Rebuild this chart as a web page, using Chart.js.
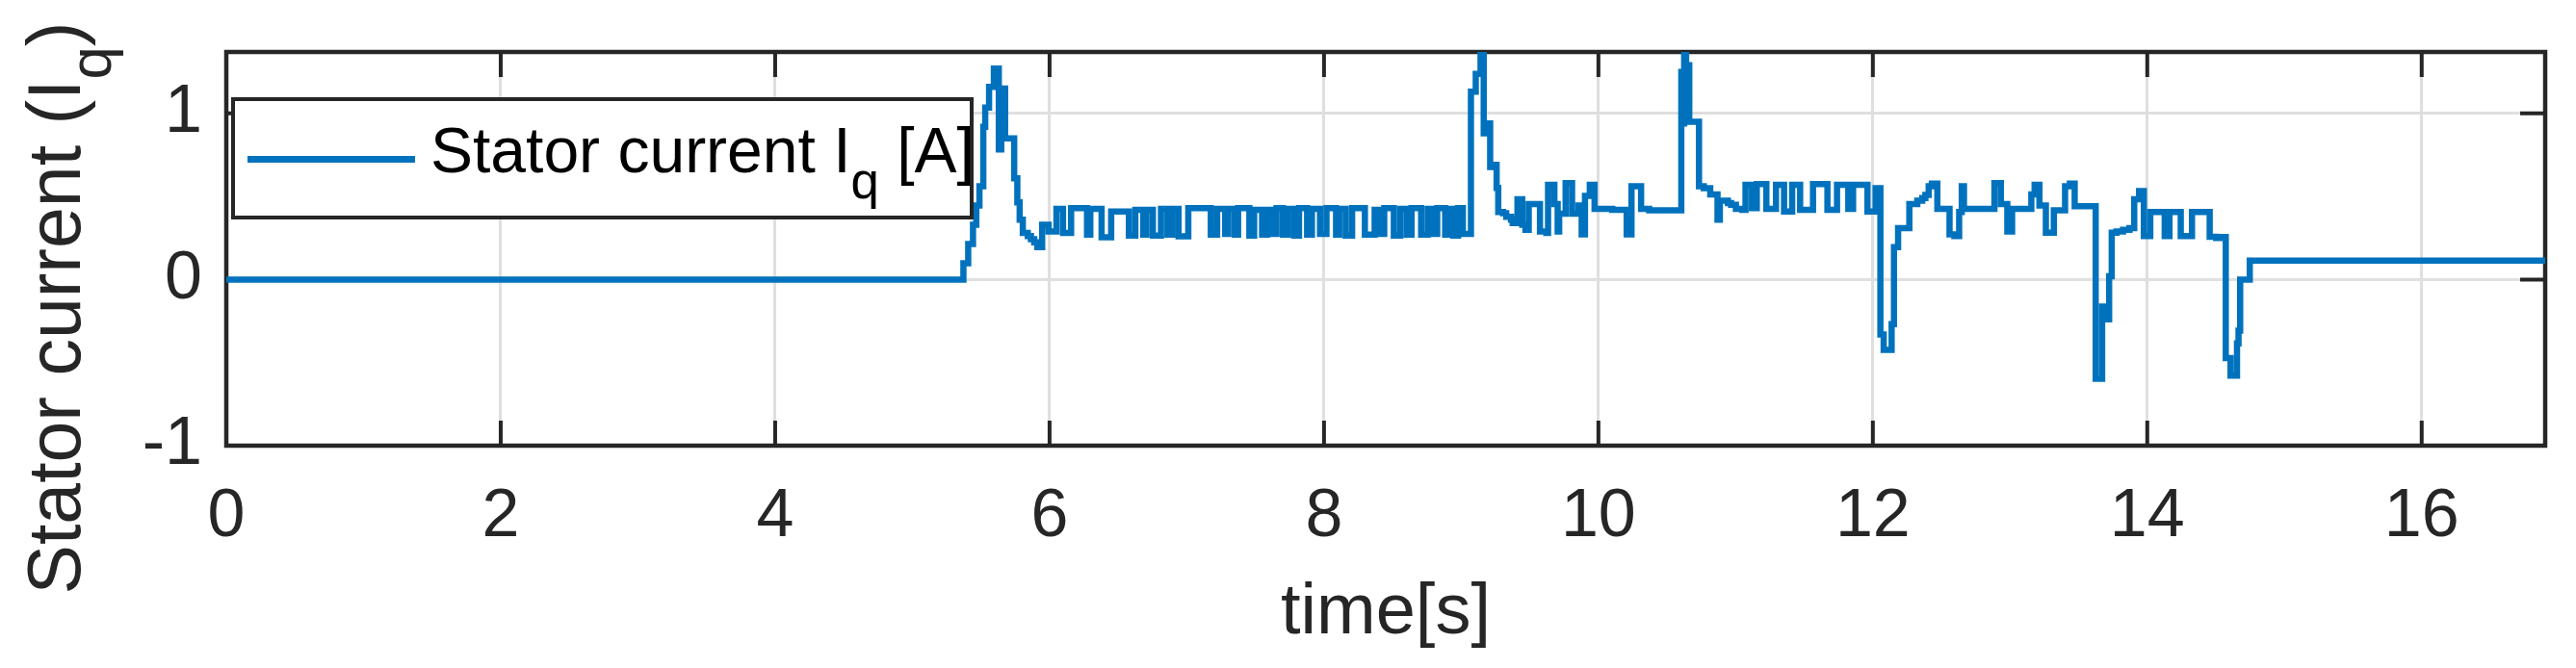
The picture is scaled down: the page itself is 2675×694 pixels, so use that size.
<!DOCTYPE html>
<html>
<head>
<meta charset="utf-8">
<title>Stator current Iq</title>
<script src="https://cdn.jsdelivr.net/npm/chart.js@4.4.1/dist/chart.umd.min.js"></script>
<style>
	body { margin: 0; background: #fff; }
	#wrap { position: relative; width: 2675px; height: 694px; overflow: hidden; }
	#ylabel {
		position: absolute; left: -344px; top: 270px; width: 800px; height: 100px;
		line-height: 100px; text-align: center; white-space: nowrap;
		font-family: 'Liberation Sans', Arial, sans-serif; font-size: 77px; color: #262626;
		transform: rotate(-90deg);
	}
	#legend {
		position: absolute; left: 240px; top: 101px; width: 771px; height: 127px;
		box-sizing: border-box; border: 4px solid #262626; background: #fff;
	}
	#legend .sample { position: absolute; left: 13px; top: 57px; width: 174px; height: 6.5px; background: #0072BD; }
	#legend .text {
		position: absolute; left: 203px; top: 18px; line-height: 66px; white-space: nowrap;
		font-family: 'Liberation Sans', Arial, sans-serif; font-size: 66px; color: #000;
	}
	sub { font-size: 0.8em; vertical-align: -0.52em; line-height: 0; }
</style>
</head>
<body>
<div id="wrap">
	<canvas id="iqChart" width="2675" height="694"></canvas>
	<div id="ylabel">Stator current (I<sub>q</sub>)</div>
	<div id="legend">
		<div class="sample"></div>
		<div class="text">Stator current I<sub>q</sub> [A]</div>
	</div>
</div>
<script>
// time [s] at which the current steps to a new value
var timeS = [
	0, 5.372, 5.407, 5.442, 5.466, 5.489, 5.517, 5.531, 5.559, 5.594,
	5.630, 5.648, 5.676, 5.742, 5.765, 5.782, 5.805, 5.841, 5.864, 5.888,
	5.911, 5.946, 5.993,
	6.050, 6.098, 6.157, 6.273, 6.297, 6.379, 6.449, 6.578, 6.625, 6.683,
	6.706, 6.753, 6.812, 6.859, 6.894, 6.940, 7.011, 7.175, 7.221, 7.280,
	7.303, 7.350, 7.374, 7.456, 7.491, 7.549, 7.584, 7.619, 7.654, 7.701,
	7.737, 7.783, 7.818, 7.877, 7.912, 7.971, 8.018, 8.088, 8.111, 8.158,
	8.205, 8.298, 8.369, 8.404, 8.439, 8.509, 8.556, 8.603, 8.638, 8.708,
	8.755, 8.790, 8.825, 8.883, 8.907, 8.942, 8.977, 9.012,
	9.071, 9.106, 9.141, 9.164, 9.188, 9.211, 9.235, 9.258, 9.270, 9.305,
	9.328, 9.363, 9.375, 9.410, 9.445, 9.468, 9.492, 9.574, 9.621, 9.633,
	9.679, 9.703, 9.714, 9.761, 9.808, 9.855, 9.878, 9.902, 9.937, 9.972,
	10.101, 10.206, 10.241, 10.311, 10.370,
	10.604, 10.615, 10.625, 10.639, 10.662, 10.733, 10.768, 10.815, 10.868, 10.885,
	10.944, 10.967, 11.002, 11.049,
	11.072, 11.119, 11.154, 11.224, 11.294, 11.353, 11.412, 11.470, 11.564, 11.669,
	11.739, 11.821, 11.856, 11.961,
	12.020, 12.055, 12.079, 12.137, 12.154, 12.184, 12.266, 12.324, 12.360, 12.383,
	12.407, 12.430, 12.470, 12.559, 12.594, 12.629, 12.648, 12.664, 12.886, 12.933,
	12.980, 13.015, 13.155, 13.179, 13.214, 13.261, 13.319, 13.401, 13.436, 13.471,
	13.624, 13.671, 13.706, 13.722, 13.741, 13.776, 13.823, 13.870, 13.905, 13.940,
	13.975, 14.022, 14.127, 14.162, 14.244, 14.326, 14.455, 14.502, 14.548,
	14.572, 14.607, 14.654, 14.665, 14.677, 14.747, 16.9
];

// stator current Iq [A] held from the matching time
var statorIq = [
	0, 0.098, 0.214, 0.33, 0.446, 0.562, 0.919, 1.035, 1.16, 1.27,
	0.784, 1.15, 0.85, 0.61, 0.465, 0.36, 0.28, 0.262, 0.243, 0.224,
	0.195, 0.33, 0.29,
	0.426, 0.28, 0.43, 0.27, 0.425, 0.255, 0.41, 0.265, 0.42, 0.27,
	0.42, 0.265, 0.425, 0.27, 0.425, 0.26, 0.43, 0.27, 0.425, 0.275,
	0.425, 0.27, 0.43, 0.265, 0.42, 0.27, 0.42, 0.275, 0.43, 0.27,
	0.425, 0.265, 0.43, 0.27, 0.425, 0.275, 0.43, 0.27, 0.425, 0.265,
	0.43, 0.27, 0.42, 0.275, 0.43, 0.265, 0.425, 0.27, 0.43, 0.27,
	0.425, 0.275, 0.43, 0.27, 0.425, 0.265, 0.43, 0.275,
	1.131, 1.238, 1.36, 0.88, 0.94, 0.678, 0.69, 0.552, 0.407, 0.40,
	0.378, 0.36, 0.34, 0.484, 0.33, 0.30, 0.455, 0.29, 0.28, 0.571,
	0.455, 0.29, 0.397, 0.58, 0.397, 0.446, 0.272, 0.504, 0.571, 0.426,
	0.42, 0.272, 0.562, 0.426, 0.417,
	1.25, 0.94, 1.37, 1.29, 0.95, 0.562, 0.55, 0.513, 0.36, 0.475,
	0.46, 0.45, 0.426, 0.42,
	0.571, 0.43, 0.575, 0.426, 0.571, 0.41, 0.571, 0.42, 0.575, 0.42,
	0.571, 0.426, 0.571, 0.41,
	0.55, -0.33, -0.423, -0.269, 0.195, 0.31, 0.455, 0.475, 0.49, 0.51,
	0.562, 0.577, 0.426, 0.272, 0.262, 0.407, 0.562, 0.426, 0.581, 0.455,
	0.29, 0.426, 0.513, 0.571, 0.446, 0.282, 0.417, 0.562, 0.577, 0.442,
	-0.597, -0.162, -0.24, 0.02, 0.282, 0.29, 0.30, 0.31, 0.484, 0.533,
	0.262, 0.407, 0.262, 0.407, 0.262, 0.407, 0.258, 0.25, 0.256,
	-0.472, -0.578, -0.385, -0.307, 0.0, 0.114, 0.114
];

var xTicks = [0, 2, 4, 6, 8, 10, 12, 14, 16];
var yTicks = [-1, 0, 1];

var axisColor = '#262626';
var lineBlue = '#0072BD';
var gridGrey = '#dfdfdf';
var fontFamily = "'Liberation Sans', Arial, sans-serif";

// Box round the axes with inward tick marks, drawn under the line
var axesBox = {
	id: 'axesBox',
	beforeDatasetsDraw: function(chart) {
		var ctx = chart.ctx;
		var a = chart.chartArea;
		var x = chart.scales.x;
		var y = chart.scales.y;
		var len = 26;

		ctx.save();
		ctx.strokeStyle = axisColor;
		ctx.lineWidth = 4;
		ctx.beginPath();
		for(var i = 0; i < x.ticks.length; i++) {
			var px = x.getPixelForValue(x.ticks[i].value);
			ctx.moveTo(px, a.bottom);
			ctx.lineTo(px, a.bottom - len);
			ctx.moveTo(px, a.top);
			ctx.lineTo(px, a.top + len);
		}
		for(var j = 0; j < y.ticks.length; j++) {
			var py = y.getPixelForValue(y.ticks[j].value);
			ctx.moveTo(a.left, py);
			ctx.lineTo(a.left + len, py);
			ctx.moveTo(a.right, py);
			ctx.lineTo(a.right - len, py);
		}
		ctx.stroke();
		ctx.lineWidth = 4.5;
		ctx.strokeRect(a.left, a.top, a.right - a.left, a.bottom - a.top);
		ctx.restore();
	}
};

var points = [];
for(var k = 0; k < timeS.length; k++) {
	points.push({ x: timeS[k], y: statorIq[k] });
}

var context = document.getElementById('iqChart').getContext('2d');

var chart = new Chart(context, {
	type: 'line',
	data: {
		datasets: [{
			label: 'Stator current Iq [A]',
			data: points,
			borderColor: lineBlue,
			borderWidth: 6.5,
			pointRadius: 0,
			stepped: true,
			fill: false,
		}],
	},
	options: {
		responsive: false,
		animation: false,
		devicePixelRatio: 1,
		layout: {
			padding: { top: 54, right: 32, left: 0, bottom: 0 },
		},
		plugins: {
			legend: { display: false },
			tooltip: { enabled: false },
		},
		scales: {
			x: {
				type: 'linear',
				min: 0,
				max: 16.9,
				afterBuildTicks: function(scale) {
					scale.ticks = xTicks.map(function(v) { return { value: v }; });
				},
				afterFit: function(scale) {
					// fixed axis band, no extra label overhang
					scale.height = 231;
					scale.paddingLeft = 0;
					scale.paddingRight = 0;
					scale.paddingTop = 0;
					scale.paddingBottom = 0;
				},
				border: { display: false },
				grid: { color: gridGrey, lineWidth: 3, drawTicks: false },
				ticks: {
					padding: 33,
					color: axisColor,
					font: { family: fontFamily, size: 70 },
					maxRotation: 0,
				},
				title: {
					display: true,
					text: 'time[s]',
					color: axisColor,
					font: { family: fontFamily, size: 74 },
					padding: { top: 0, bottom: 12 },
				},
			},
			y: {
				type: 'linear',
				min: -1,
				max: 1.37,
				afterBuildTicks: function(scale) {
					scale.ticks = yTicks.map(function(v) { return { value: v }; });
				},
				afterFit: function(scale) {
					scale.width = 235;
					scale.paddingLeft = 0;
					scale.paddingRight = 0;
					scale.paddingTop = 0;
					scale.paddingBottom = 0;
				},
				border: { display: false },
				grid: { color: gridGrey, lineWidth: 3, drawTicks: false },
				ticks: {
					padding: 25,
					color: axisColor,
					font: { family: fontFamily, size: 70 },
				},
			},
		},
	},
	plugins: [axesBox],
});
</script>
</body>
</html>
